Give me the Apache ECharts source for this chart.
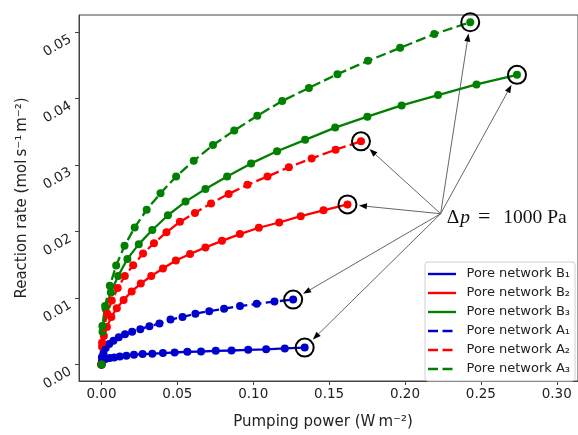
<!DOCTYPE html>
<html>
<head>
<meta charset="utf-8">
<script src="https://cdn.jsdelivr.net/npm/echarts@6/dist/echarts.min.js"></script>
<style>
  html, body { margin: 0; padding: 0; background: #fff; }
  #chart { width: 578px; height: 435px; }
</style>
</head>
<body>
<div id="chart"></div>
<script>
// Pumping power (W m^-2) and reaction rate (mol s^-1 m^-2), one point per pressure step
const xB1 = [0, 0.0003, 0.0013, 0.0030, 0.0054, 0.0084, 0.0121, 0.0164, 0.0214, 0.0271, 0.0335, 0.0405, 0.0482, 0.0566, 0.0656, 0.0753, 0.0857, 0.0967, 0.1085, 0.1208, 0.1339];
const yB1 = [0, 0.00052, 0.00074, 0.00089, 0.00099, 0.00108, 0.00123, 0.00133, 0.00148, 0.00159, 0.00163, 0.00173, 0.00182, 0.00193, 0.00197, 0.00207, 0.00212, 0.00222, 0.00230, 0.00243, 0.00256];

const xB2 = [0, 0.0004, 0.0016, 0.0036, 0.0065, 0.0101, 0.0146, 0.0199, 0.0259, 0.0328, 0.0405, 0.0490, 0.0584, 0.0685, 0.0794, 0.0912, 0.1037, 0.1171, 0.1313, 0.1463, 0.1621];
const yB2 = [0, 0.0027, 0.0043, 0.00567, 0.00716, 0.00849, 0.00973, 0.01101, 0.01219, 0.01333, 0.01447, 0.01566, 0.01664, 0.01763, 0.01862, 0.01963, 0.02059, 0.02138, 0.02233, 0.02321, 0.0241];

const xB3 = [0, 0.0007, 0.0027, 0.0062, 0.0110, 0.0171, 0.0246, 0.0335, 0.0438, 0.0554, 0.0685, 0.0828, 0.0986, 0.1157, 0.1342, 0.1540, 0.1752, 0.1978, 0.2218, 0.2471, 0.2738];
const yB3 = [0, 0.00493, 0.0084, 0.01086, 0.01333, 0.0159, 0.01812, 0.02025, 0.02247, 0.02452, 0.02641, 0.0283, 0.03027, 0.0321, 0.03382, 0.03566, 0.0373, 0.0390, 0.04055, 0.04215, 0.0436];

const xA1 = [0, 0.0003, 0.0013, 0.0028, 0.0051, 0.0079, 0.0114, 0.0155, 0.0202, 0.0256, 0.0316, 0.0382, 0.0455, 0.0534, 0.0619, 0.0710, 0.0808, 0.0913, 0.1023, 0.1140, 0.1263];
const yA1 = [0, 0.0011, 0.0017, 0.0025, 0.0031, 0.0036, 0.0041, 0.00455, 0.00493, 0.00533, 0.00578, 0.00618, 0.00677, 0.00716, 0.00766, 0.00804, 0.0084, 0.00881, 0.00914, 0.00948, 0.00978];

const xA2 = [0, 0.0004, 0.0017, 0.0038, 0.0068, 0.0107, 0.0154, 0.0209, 0.0274, 0.0346, 0.0428, 0.0517, 0.0616, 0.0722, 0.0838, 0.0962, 0.1094, 0.1235, 0.1385, 0.1543, 0.1710];
const yA2 = [0, 0.0033, 0.00559, 0.00766, 0.00963, 0.01151, 0.01333, 0.01496, 0.0167, 0.01827, 0.0199, 0.02148, 0.02281, 0.02425, 0.02567, 0.02704, 0.0283, 0.0297, 0.03101, 0.03234, 0.03359];

const xA3 = [0, 0.0006, 0.0024, 0.0055, 0.0097, 0.0152, 0.0219, 0.0298, 0.0389, 0.0492, 0.0608, 0.0735, 0.0875, 0.1027, 0.1191, 0.1367, 0.1555, 0.1756, 0.1968, 0.2193, 0.2430];
const yA3 = [0, 0.0058, 0.0088, 0.01185, 0.01492, 0.01788, 0.02064, 0.0233, 0.02578, 0.0283, 0.03067, 0.03304, 0.03521, 0.03744, 0.03966, 0.04163, 0.0437, 0.0457, 0.04766, 0.04973, 0.05151];

const seriesNames = ['Pore network B₁', 'Pore network B₂', 'Pore network B₃',
                     'Pore network A₁', 'Pore network A₂', 'Pore network A₃'];

const xTicks = [0, 0.05, 0.10, 0.15, 0.20, 0.25, 0.30];
const yTicks = [0, 0.01, 0.02, 0.03, 0.04, 0.05];

// Where the pressure-drop note sits (data units); arrows fan out from here
const noteAnchor = [0.2235, 0.0227];

const BLUE = '#0000cd', RED = '#ff0000', GREEN = '#008000';
const curves = [
  { name: seriesNames[0], x: xB1, y: yB1, color: BLUE,  dashed: false },
  { name: seriesNames[1], x: xB2, y: yB2, color: RED,   dashed: false },
  { name: seriesNames[2], x: xB3, y: yB3, color: GREEN, dashed: false },
  { name: seriesNames[3], x: xA1, y: yA1, color: BLUE,  dashed: true },
  { name: seriesNames[4], x: xA2, y: yA2, color: RED,   dashed: true },
  { name: seriesNames[5], x: xA3, y: yA3, color: GREEN, dashed: true }
];

const SOLID_ICON = 'path://M0,0H28V2.4H0Z';
const DASH_ICON = 'path://M0,0H10V2.4H0Z M14.5,0H24.5V2.4H14.5Z M28,0H28V2.4H28Z';

const FONT = 'DejaVu Sans';

const chart = echarts.init(document.getElementById('chart'), null, { renderer: 'canvas' });

const lineSeries = curves.map(c => ({
  type: 'line',
  name: c.name,
  data: c.x.map((v, i) => [v, c.y[i]]),
  symbol: 'circle',
  symbolSize: 8,
  showAllSymbol: true,
  clip: false,
  lineStyle: { color: c.color, width: 2.3, type: c.dashed ? [10, 4.3] : 'solid' },
  itemStyle: { color: c.color, borderWidth: 0 },
  emphasis: { disabled: true },
  z: 2
}));

// Open rings marking the last point of each curve
const ringSeries = {
  type: 'scatter',
  name: 'end-rings',
  data: curves.map(c => [c.x[c.x.length - 1], c.y[c.y.length - 1]]),
  symbol: 'circle',
  symbolSize: 18,
  itemStyle: { color: 'none', opacity: 1, borderColor: '#000', borderWidth: 2 },
  emphasis: { disabled: true },
  silent: true,
  z: 5
};

const option = {
  animation: false,
  backgroundColor: '#fff',
  grid: {
    left: 79, top: 15, width: 505, height: 372,
    show: true, borderColor: '#444', borderWidth: 1, backgroundColor: 'transparent'
  },
  xAxis: {
    type: 'value',
    min: -0.0148, max: 0.314,
    axisLine: { onZero: false, lineStyle: { color: '#444', width: 1 } },
    axisTick: { show: true, customValues: xTicks, length: 4, lineStyle: { color: '#444' } },
    axisLabel: { customValues: xTicks, formatter: v => v.toFixed(2), color: '#222',
                 fontSize: 13.5, fontFamily: FONT, margin: 6 },
    splitLine: { show: false },
    name: 'Pumping power (W\u2009m⁻²)',
    nameLocation: 'middle',
    nameGap: 34,
    nameTextStyle: { color: '#222', fontSize: 15, fontFamily: FONT, padding: [0, 11, 0, 0] }
  },
  yAxis: {
    type: 'value',
    min: -0.00247, max: 0.0526,
    axisLine: { onZero: false, lineStyle: { color: '#444', width: 1 } },
    axisTick: { show: true, customValues: yTicks, length: 4, lineStyle: { color: '#444' } },
    axisLabel: { customValues: yTicks, formatter: v => v.toFixed(2), color: '#222',
                 fontSize: 13.5, fontFamily: FONT, margin: 12, rotate: 30, verticalAlign: 'top' },
    splitLine: { show: false },
    name: 'Reaction rate (mol\u2009s⁻¹\u2009m⁻²)',
    nameLocation: 'middle',
    nameGap: 49,
    nameRotate: 90,
    nameTextStyle: { color: '#222', fontSize: 15, fontFamily: FONT }
  },
  legend: {
    orient: 'vertical',
    left: 425, top: 262,
    padding: [5, 5, 5, 3],
    itemWidth: 28, itemHeight: 2.4,
    itemGap: 5,
    selectedMode: false,
    backgroundColor: 'rgba(255,255,255,0.85)',
    borderColor: '#cfcfcf', borderWidth: 1, borderRadius: 3,
    itemStyle: { borderWidth: 0 },
    textStyle: { color: '#222', fontSize: 13, fontFamily: FONT, lineHeight: 14, padding: [0, 0, 0, 5.5] },
    data: curves.map(c => ({ name: c.name, icon: c.dashed ? DASH_ICON : SOLID_ICON }))
  },
  series: [...lineSeries, ringSeries]
};

chart.setOption(option);

// Arrows from the note to each ringed end point, plus the note itself
const anchorPx = chart.convertToPixel({ gridIndex: 0 }, noteAnchor);
const graphics = [];
curves.forEach(c => {
  const n = c.x.length - 1;
  const p = chart.convertToPixel({ gridIndex: 0 }, [c.x[n], c.y[n]]);
  const dx = anchorPx[0] - p[0], dy = anchorPx[1] - p[1];
  const len = Math.hypot(dx, dy);
  const ux = dx / len, uy = dy / len;
  const tip = [p[0] + ux * 11.5, p[1] + uy * 11.5];
  const headLen = 8, headHalf = 3;
  const base = [tip[0] + ux * headLen, tip[1] + uy * headLen];
  graphics.push({
    type: 'line', z: 20, silent: true,
    shape: { x1: anchorPx[0], y1: anchorPx[1], x2: base[0], y2: base[1] },
    style: { stroke: '#555', lineWidth: 0.9 }
  });
  graphics.push({
    type: 'polygon', z: 21, silent: true,
    shape: { points: [tip, [base[0] - uy * headHalf, base[1] + ux * headHalf], [base[0] + uy * headHalf, base[1] - ux * headHalf]] },
    style: { fill: '#000' }
  });
});
graphics.push({
  type: 'text', z: 22, silent: true,
  x: anchorPx[0] + 6, y: anchorPx[1] + 4,
  style: {
    text: '{d|Δ}{p|p}{e|=}{t|1000 Pa}',
    verticalAlign: 'middle', align: 'left',
    fill: '#111',
    font: '19.5px "Liberation Serif"',
    rich: {
      d: { fontFamily: 'Liberation Serif', fontSize: 19.5, fill: '#111' },
      p: { fontFamily: 'Liberation Serif', fontSize: 19.5, fontStyle: 'italic', fill: '#111', padding: [0, 8, 0, 1] },
      e: { fontFamily: 'Liberation Serif', fontSize: 22, fill: '#111', padding: [0, 13, 0, 0] },
      t: { fontFamily: 'Liberation Serif', fontSize: 19.5, fill: '#111' }
    }
  }
});
chart.setOption({ graphic: graphics });
</script>
</body>
</html>
